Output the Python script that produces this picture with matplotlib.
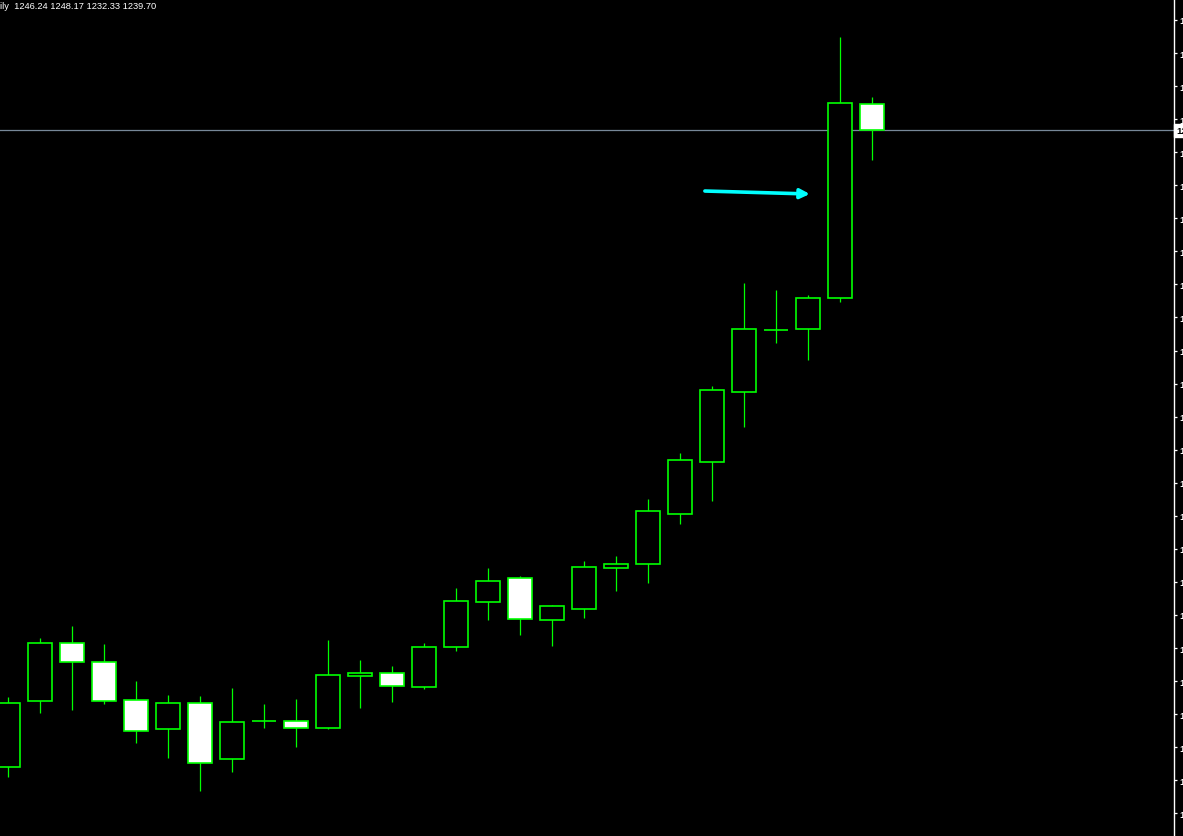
import matplotlib
matplotlib.use("Agg")
import matplotlib.pyplot as plt

# daily OHLC (oldest first)
opens = [1079.18, 1095.81, 1110.42, 1105.64, 1096.06, 1088.75, 1095.30, 1081.19,
         1090.75, 1090.77, 1089.00, 1102.11, 1102.86, 1099.34, 1109.42, 1120.76,
         1126.80, 1116.22, 1118.99, 1129.32, 1130.33, 1142.93, 1156.04, 1173.68,
         1189.25, 1189.55, 1197.36, 1246.24]
highs = [1096.89, 1111.76, 1114.78, 1110.25, 1100.92, 1097.40, 1097.14, 1099.16,
         1095.13, 1096.39, 1111.26, 1106.22, 1104.70, 1110.42, 1124.36, 1129.40,
         1127.38, 1120.00, 1131.09, 1132.42, 1146.71, 1158.30, 1175.26, 1201.14,
         1199.46, 1198.20, 1263.21, 1248.17]
lows = [1076.81, 1092.94, 1093.69, 1095.20, 1085.38, 1081.60, 1073.28, 1078.07,
        1089.16, 1084.37, 1088.90, 1094.20, 1095.71, 1098.83, 1108.56, 1116.37,
        1112.59, 1109.82, 1116.88, 1123.68, 1125.70, 1140.56, 1146.36, 1165.01,
        1186.18, 1181.89, 1196.43, 1232.33]
closes = [1095.30, 1110.42, 1105.79, 1095.81, 1088.25, 1095.30, 1080.18, 1090.52,
          1090.77, 1089.00, 1102.36, 1102.86, 1099.59, 1109.42, 1121.01, 1126.05,
          1116.47, 1119.75, 1129.58, 1130.33, 1143.69, 1156.54, 1174.18, 1189.55,
          1189.50, 1197.36, 1246.50, 1239.70]

y_ticks = [1267.50, 1259.17, 1250.84, 1242.51, 1234.18, 1225.85, 1217.52, 1209.19,
           1200.86, 1192.53, 1184.20, 1175.87, 1167.54, 1159.21, 1150.88, 1142.55,
           1134.22, 1125.89, 1117.56, 1109.23, 1100.90, 1092.57, 1084.24, 1075.91,
           1067.58]

bid = 1239.70
arrow_start = (21.77, 1224.40)
arrow_end = (25.05, 1223.65)

green = "#00ff00"
x = list(range(len(opens)))

fig = plt.figure(figsize=(11.83, 8.37), dpi=100, facecolor="black")
ax = fig.add_axes([0, 0, 1174.3 / 1183, 1])
ax.set_facecolor("black")

# wicks first, bodies on top
ax.vlines(x, lows, highs, color=green, lw=0.9, zorder=2)
bottoms = [min(o, c) for o, c in zip(opens, closes)]
heights = [abs(c - o) for o, c in zip(opens, closes)]
faces = ["black" if c >= o else "white" for o, c in zip(opens, closes)]
ax.bar(x, heights, bottom=bottoms, width=0.75, color=faces,
       edgecolor=green, linewidth=1.2, zorder=3)

# bid line
ax.axhline(bid, color="#778899", lw=0.9, zorder=1)

ax.annotate("", xy=arrow_end, xytext=arrow_start,
            arrowprops=dict(arrowstyle="-|>", color="#00ffff", lw=2.6,
                            mutation_scale=14, shrinkA=0, shrinkB=0))

ax.set_xlim(-0.259, 36.44)
ax.set_ylim(1061.86, 1272.79)

for s in ["left", "top", "bottom"]:
    ax.spines[s].set_visible(False)
ax.spines["right"].set_color("white")
ax.spines["right"].set_linewidth(1.0)

ax.set_xticks([])
ax.yaxis.tick_right()
ax.set_yticks(y_ticks)
ax.set_yticklabels(["%.2f" % v for v in y_ticks])
ax.tick_params(axis="y", colors="white", direction="out", length=2.0,
               width=0.9, pad=1.6, labelsize=6.8)
for lab in ax.get_yticklabels():
    lab.set_fontfamily("Liberation Sans")
    lab.set_fontweight("bold")

# bid price marker on the axis
ax.text(1.0015, bid, "%.2f" % bid, transform=ax.get_yaxis_transform(),
        ha="left", va="center", fontsize=6.8, family="Liberation Sans",
        fontweight="bold", color="black", clip_on=False,
        bbox=dict(boxstyle="square,pad=0.2", fc="white", ec="white"))

fig.text(0.0, 0.998, "ily  1246.24 1248.17 1232.33 1239.70", color="white",
         fontsize=6.7, family="Liberation Sans", ha="left", va="top")

fig.savefig("out.png", dpi=100, facecolor="black")
